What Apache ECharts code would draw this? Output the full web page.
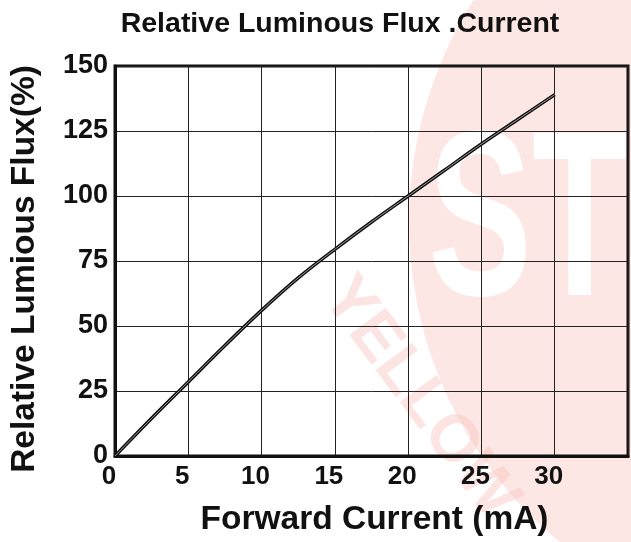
<!DOCTYPE html>
<html>
<head>
<meta charset="utf-8">
<script src="https://cdn.jsdelivr.net/npm/echarts@6/dist/echarts.min.js"></script>
<style>
html,body{margin:0;padding:0;background:#fff;}
#chart{width:631px;height:542px;}
</style>
</head>
<body>
<div id="chart"></div>
<script>
// Data
var currentMA = [0, 2.5, 5, 7.5, 10, 12.5, 15, 17.5, 20, 22.5, 25, 27.5, 30];
var fluxPct   = [0, 14.5, 28.5, 42.5, 56, 68.5, 79.5, 90, 100, 110, 120, 129.5, 139];
var xTicks = [0, 5, 10, 15, 20, 25, 30];
var yTicks = [0, 25, 50, 75, 100, 125, 150];
var titleText = 'Relative Luminous Flux .Current';
var xName = 'Forward Current (mA)';
var yName = 'Relative Lumious Flux(%)';

var pts = currentMA.map(function (x, i) { return [x, fluxPct[i]]; });
var FONT = '"Liberation Sans", Arial, sans-serif';

var chart = echarts.init(document.getElementById('chart'));
chart.setOption({
  animation: false,
  backgroundColor: '#ffffff',
  title: {
    text: titleText,
    left: 340, top: 10, padding: 0, textAlign: 'center',
    textStyle: { fontFamily: FONT, fontWeight: 'bold', fontSize: 28.5, color: '#111' }
  },
  graphic: [
    { type: 'circle', z: -10, silent: true,
      shape: { cx: 824, cy: 222, r: 415 },
      style: { fill: '#fde7e5' } },
    { type: 'text', z: -9, silent: true, x: 428, y: 112, scaleX: 0.66,
      style: { text: 'ST', fontFamily: FONT, fontWeight: 'bold', fontSize: 236,
               fill: '#ffffff', textVerticalAlign: 'top' } },
    { type: 'text', z: -9, silent: true, x: 335, y: 285, rotation: -0.93,
      style: { text: 'YELLOW', fontFamily: FONT, fontWeight: 'bold', fontSize: 66,
               fill: 'rgba(248,196,190,0.45)', textVerticalAlign: 'middle' } }
  ],
  grid: {
    left: 112, top: 66, right: 3, bottom: 84,
    show: true, borderColor: '#111', borderWidth: 3, backgroundColor: 'transparent'
  },
  xAxis: {
    type: 'value', min: 0, max: 35, interval: 5,
    name: xName, nameLocation: 'middle', nameGap: 47,
    nameTextStyle: { fontFamily: FONT, fontWeight: 'bold', fontSize: 33.5, color: '#111',
                     padding: [0, 0, 0, 6] },
    axisLine: { show: true, lineStyle: { color: '#111', width: 3 } },
    axisTick: { show: false },
    axisLabel: {
      fontFamily: FONT, fontWeight: 'bold', fontSize: 26, color: '#111', margin: 8,
      padding: [0, 12, 0, 0],
      formatter: function (v) { return xTicks.indexOf(v) >= 0 ? String(v) : ''; }
    },
    splitLine: { show: true, lineStyle: { color: '#222', width: 1 } }
  },
  yAxis: {
    type: 'value', min: 0, max: 150, interval: 25,
    name: yName, nameLocation: 'middle', nameGap: 73, nameRotate: 90,
    nameTextStyle: { fontFamily: FONT, fontWeight: 'bold', fontSize: 33.5, color: '#111',
                     padding: [0, 16, 0, 0] },
    axisLine: { show: true, lineStyle: { color: '#111', width: 3 } },
    axisTick: { show: false },
    axisLabel: {
      fontFamily: FONT, fontWeight: 'bold', fontSize: 27, color: '#111', margin: 7,
      formatter: function (v) { return yTicks.indexOf(v) >= 0 ? String(v) : ''; }
    },
    splitLine: { show: true, lineStyle: { color: '#222', width: 1 } }
  },
  series: [
    { type: 'line', data: pts, smooth: 0.3, symbol: 'none', z: 3,
      lineStyle: { color: '#111', width: 3.5 } },
    { type: 'line', data: pts, smooth: 0.3, symbol: 'none', z: 4,
      lineStyle: { color: '#bbbbbb', width: 0.8 } }
  ]
});
</script>
</body>
</html>
